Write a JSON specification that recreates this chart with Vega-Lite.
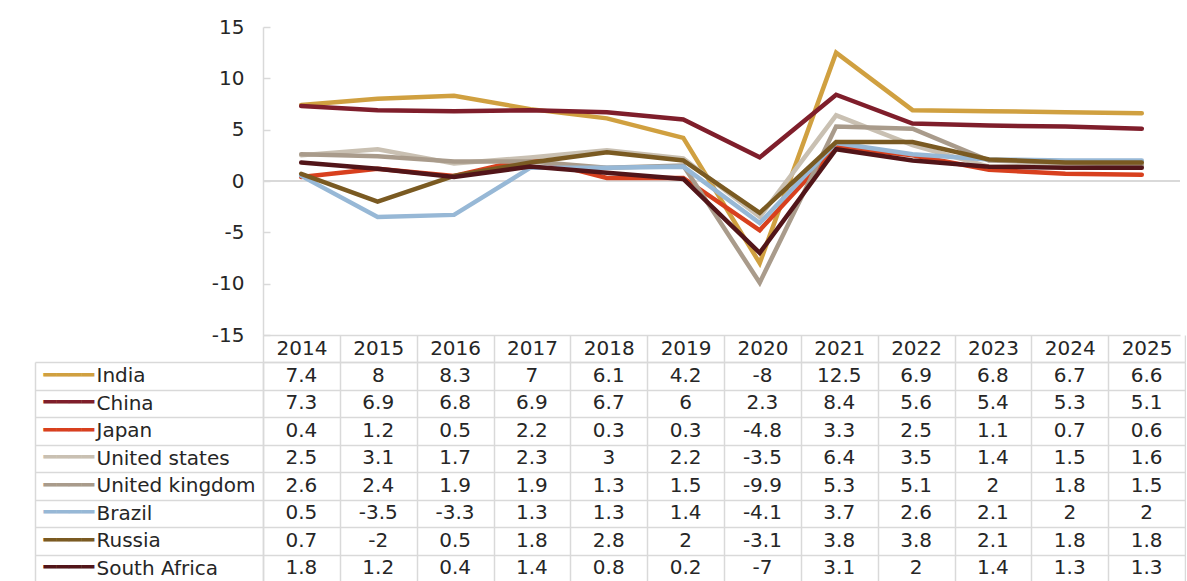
{
  "$schema": "https://vega.github.io/schema/vega-lite/v6.json",
  "padding": {"left": 34, "top": 17, "right": 0, "bottom": 0},
  "spacing": -11,
  "config": {
    "view": {"stroke": null},
    "font": "DejaVu Sans",
    "axis": {"labelFont": "DejaVu Sans", "labelFontSize": 20, "labelColor": "#262626", "domainColor": "#d9d9d9", "tickColor": "#d9d9d9", "gridColor": "#d9d9d9", "domainWidth": 1.5, "tickWidth": 1.5, "gridWidth": 1.5}
  },
  "data": {"values": [
    {"country": "India", "year": "2014", "value": 7.4}, {"country": "India", "year": "2015", "value": 8}, {"country": "India", "year": "2016", "value": 8.3}, {"country": "India", "year": "2017", "value": 7}, {"country": "India", "year": "2018", "value": 6.1}, {"country": "India", "year": "2019", "value": 4.2}, {"country": "India", "year": "2020", "value": -8}, {"country": "India", "year": "2021", "value": 12.5}, {"country": "India", "year": "2022", "value": 6.9}, {"country": "India", "year": "2023", "value": 6.8}, {"country": "India", "year": "2024", "value": 6.7}, {"country": "India", "year": "2025", "value": 6.6},
    {"country": "China", "year": "2014", "value": 7.3}, {"country": "China", "year": "2015", "value": 6.9}, {"country": "China", "year": "2016", "value": 6.8}, {"country": "China", "year": "2017", "value": 6.9}, {"country": "China", "year": "2018", "value": 6.7}, {"country": "China", "year": "2019", "value": 6}, {"country": "China", "year": "2020", "value": 2.3}, {"country": "China", "year": "2021", "value": 8.4}, {"country": "China", "year": "2022", "value": 5.6}, {"country": "China", "year": "2023", "value": 5.4}, {"country": "China", "year": "2024", "value": 5.3}, {"country": "China", "year": "2025", "value": 5.1},
    {"country": "Japan", "year": "2014", "value": 0.4}, {"country": "Japan", "year": "2015", "value": 1.2}, {"country": "Japan", "year": "2016", "value": 0.5}, {"country": "Japan", "year": "2017", "value": 2.2}, {"country": "Japan", "year": "2018", "value": 0.3}, {"country": "Japan", "year": "2019", "value": 0.3}, {"country": "Japan", "year": "2020", "value": -4.8}, {"country": "Japan", "year": "2021", "value": 3.3}, {"country": "Japan", "year": "2022", "value": 2.5}, {"country": "Japan", "year": "2023", "value": 1.1}, {"country": "Japan", "year": "2024", "value": 0.7}, {"country": "Japan", "year": "2025", "value": 0.6},
    {"country": "United states", "year": "2014", "value": 2.5}, {"country": "United states", "year": "2015", "value": 3.1}, {"country": "United states", "year": "2016", "value": 1.7}, {"country": "United states", "year": "2017", "value": 2.3}, {"country": "United states", "year": "2018", "value": 3}, {"country": "United states", "year": "2019", "value": 2.2}, {"country": "United states", "year": "2020", "value": -3.5}, {"country": "United states", "year": "2021", "value": 6.4}, {"country": "United states", "year": "2022", "value": 3.5}, {"country": "United states", "year": "2023", "value": 1.4}, {"country": "United states", "year": "2024", "value": 1.5}, {"country": "United states", "year": "2025", "value": 1.6},
    {"country": "United kingdom", "year": "2014", "value": 2.6}, {"country": "United kingdom", "year": "2015", "value": 2.4}, {"country": "United kingdom", "year": "2016", "value": 1.9}, {"country": "United kingdom", "year": "2017", "value": 1.9}, {"country": "United kingdom", "year": "2018", "value": 1.3}, {"country": "United kingdom", "year": "2019", "value": 1.5}, {"country": "United kingdom", "year": "2020", "value": -9.9}, {"country": "United kingdom", "year": "2021", "value": 5.3}, {"country": "United kingdom", "year": "2022", "value": 5.1}, {"country": "United kingdom", "year": "2023", "value": 2}, {"country": "United kingdom", "year": "2024", "value": 1.8}, {"country": "United kingdom", "year": "2025", "value": 1.5},
    {"country": "Brazil", "year": "2014", "value": 0.5}, {"country": "Brazil", "year": "2015", "value": -3.5}, {"country": "Brazil", "year": "2016", "value": -3.3}, {"country": "Brazil", "year": "2017", "value": 1.3}, {"country": "Brazil", "year": "2018", "value": 1.3}, {"country": "Brazil", "year": "2019", "value": 1.4}, {"country": "Brazil", "year": "2020", "value": -4.1}, {"country": "Brazil", "year": "2021", "value": 3.7}, {"country": "Brazil", "year": "2022", "value": 2.6}, {"country": "Brazil", "year": "2023", "value": 2.1}, {"country": "Brazil", "year": "2024", "value": 2}, {"country": "Brazil", "year": "2025", "value": 2},
    {"country": "Russia", "year": "2014", "value": 0.7}, {"country": "Russia", "year": "2015", "value": -2}, {"country": "Russia", "year": "2016", "value": 0.5}, {"country": "Russia", "year": "2017", "value": 1.8}, {"country": "Russia", "year": "2018", "value": 2.8}, {"country": "Russia", "year": "2019", "value": 2}, {"country": "Russia", "year": "2020", "value": -3.1}, {"country": "Russia", "year": "2021", "value": 3.8}, {"country": "Russia", "year": "2022", "value": 3.8}, {"country": "Russia", "year": "2023", "value": 2.1}, {"country": "Russia", "year": "2024", "value": 1.8}, {"country": "Russia", "year": "2025", "value": 1.8},
    {"country": "South Africa", "year": "2014", "value": 1.8}, {"country": "South Africa", "year": "2015", "value": 1.2}, {"country": "South Africa", "year": "2016", "value": 0.4}, {"country": "South Africa", "year": "2017", "value": 1.4}, {"country": "South Africa", "year": "2018", "value": 0.8}, {"country": "South Africa", "year": "2019", "value": 0.2}, {"country": "South Africa", "year": "2020", "value": -7}, {"country": "South Africa", "year": "2021", "value": 3.1}, {"country": "South Africa", "year": "2022", "value": 2}, {"country": "South Africa", "year": "2023", "value": 1.4}, {"country": "South Africa", "year": "2024", "value": 1.3}, {"country": "South Africa", "year": "2025", "value": 1.3}
  ]},
  "vconcat": [
    {
      "width": 917,
      "height": 308,
      "layer": [
        {"mark": {"type": "rule", "color": "#d9d9d9", "strokeWidth": 1.5}, "encoding": {"y": {"datum": 0, "type": "quantitative"}}},
        {
          "mark": {"type": "line", "strokeWidth": 4.5, "strokeCap": "round"},
          "encoding": {
            "x": {"field": "year", "type": "ordinal", "title": null, "scale": {"type": "point", "padding": 0.5}, "axis": {"labels": false, "ticks": false, "domain": true, "grid": false}},
            "y": {"field": "value", "type": "quantitative", "title": null, "scale": {"domain": [-15, 15], "nice": false}, "axis": {"values": [-15, -10, -5, 0, 5, 10, 15], "grid": false, "tickSize": -7, "labelPadding": 26, "labelExpr": "'' + datum.value"}},
            "color": {"field": "country", "type": "nominal", "scale": {"domain": ["India", "China", "Japan", "United states", "United kingdom", "Brazil", "Russia", "South Africa"], "range": ["#d0a040", "#7f1e2b", "#d8401e", "#c9c0b2", "#a99b8b", "#97b8d6", "#7a5a22", "#521519"]}, "legend": null}
          }
        }
      ]
    },
    {
      "width": 922,
      "height": 220,
      "layer": [
        {
          "mark": {"type": "text", "fontSize": 20, "font": "DejaVu Sans", "color": "#262626"},
          "encoding": {
            "x": {"field": "year", "type": "ordinal", "title": null, "scale": {"type": "band", "paddingInner": 0, "paddingOuter": 0}, "axis": {"orient": "top", "labelAngle": 0, "tickBand": "extent", "tickSize": 27, "labelPadding": -13, "labelBaseline": "middle", "grid": true}},
            "y": {"field": "country", "type": "nominal", "sort": ["India", "China", "Japan", "United states", "United kingdom", "Brazil", "Russia", "South Africa"], "title": null, "scale": {"type": "band", "paddingInner": 0, "paddingOuter": 0}, "axis": {"tickBand": "extent", "tickSize": 228, "labelAlign": "left", "labelPadding": -61, "grid": true}},
            "text": {"field": "value", "type": "nominal"}
          }
        },
        {
          "mark": {"type": "text", "text": ""},
          "encoding": {
            "y": {"field": "country", "type": "nominal", "sort": ["India", "China", "Japan", "United states", "United kingdom", "Brazil", "Russia", "South Africa"], "title": null, "axis": {"orient": "left", "offset": 228, "ticks": false, "grid": false, "labelAlign": "left", "labelPadding": -8, "labelExpr": "'━━━━'", "labelFontSize": 21, "labelColor": {"expr": "datum.value === 'India' ? '#d0a040' : datum.value === 'China' ? '#7f1e2b' : datum.value === 'Japan' ? '#d8401e' : datum.value === 'United states' ? '#c9c0b2' : datum.value === 'United kingdom' ? '#a99b8b' : datum.value === 'Brazil' ? '#97b8d6' : datum.value === 'Russia' ? '#7a5a22' : '#521519'"}}}
          }
        }
      ],
      "resolve": {"axis": {"y": "independent"}}
    }
  ]
}
